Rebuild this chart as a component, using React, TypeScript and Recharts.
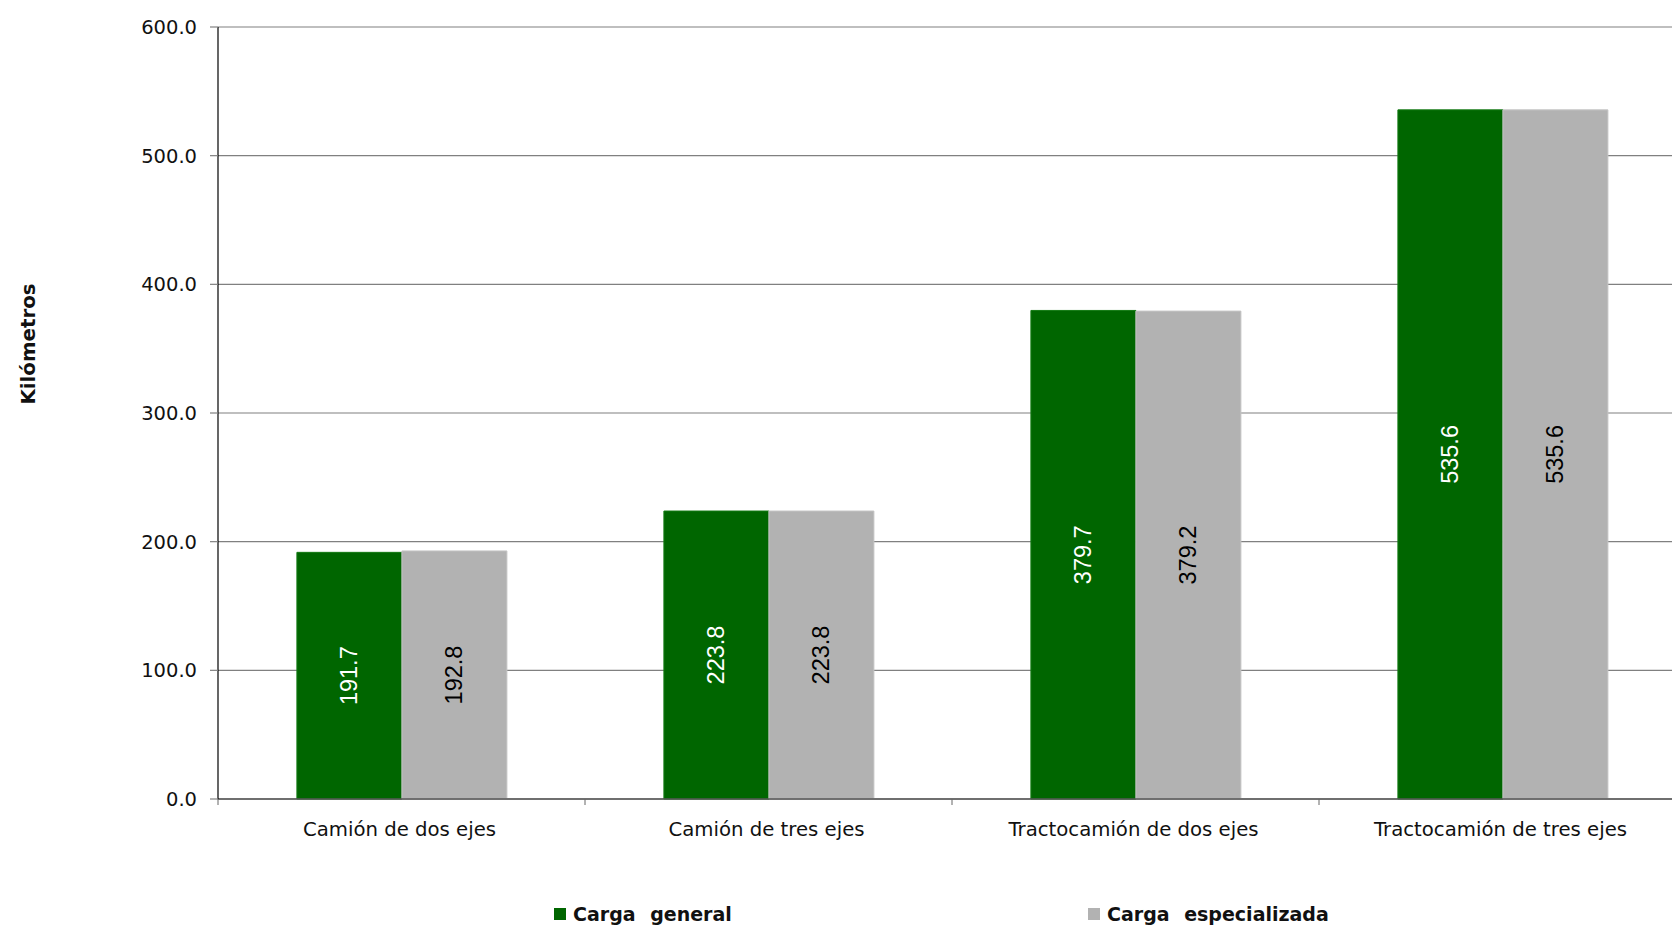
import React from 'react';
import { BarChart, Bar, XAxis, YAxis, CartesianGrid, LabelList, Legend, Label } from 'recharts';

const categories = ['Camión de dos ejes', 'Camión de tres ejes', 'Tractocamión de dos ejes', 'Tractocamión de tres ejes'];
const cargaGeneral = [191.7, 223.8, 379.7, 535.6];
const cargaEspecializada = [192.8, 223.8, 379.2, 535.6];
const yTicks = [0, 100, 200, 300, 400, 500, 600];
const seriesNames = ['Carga general', 'Carga especializada'];
const seriesColors = ['#006600', '#b2b2b2'];
const labelColors = ['#ffffff', '#000000'];

const data = categories.map((c, i) => ({ cat: c, g: cargaGeneral[i], e: cargaEspecializada[i] }));

const X_TICK_SIZE = 6;
const X_TICK_MARGIN = 17;

const CatTick = (props: any) => {
  const { x, y, payload } = props;
  const off = payload && payload.offset ? payload.offset : 0;
  const axisY = y - X_TICK_SIZE - X_TICK_MARGIN;
  const bx = x - off;
  return (
    <g>
      <line x1={bx} x2={bx} y1={axisY} y2={axisY + X_TICK_SIZE} stroke="#666" strokeWidth={1} />
      <text x={x - 2} y={y} dy="0.71em" textAnchor="middle" fontFamily="DejaVu Sans" fontSize={19.7} fill="#111">
        {payload.value}
      </text>
    </g>
  );
};

const makeBarLabel = (color: string) => (props: any) => {
  const { x, y, width, height, value } = props;
  const cx = x + width / 2;
  const cy = y + height / 2;
  return (
    <text
      x={cx}
      y={cy}
      transform={`rotate(-90, ${cx}, ${cy})`}
      textAnchor="middle"
      dominantBaseline="central"
      fontFamily="Liberation Sans"
      fontSize={23.5}
      fill={color}
    >
      {Number(value).toFixed(1)}
    </text>
  );
};

const legendLefts = [554, 1088];

const LegendContent = () => (
  <div style={{ position: 'relative', width: 1700, height: 32 }}>
    {seriesNames.map((n, i) => (
      <div
        key={n}
        style={{
          position: 'absolute',
          left: legendLefts[i],
          top: 0,
          height: 32,
          display: 'flex',
          alignItems: 'center',
          fontFamily: 'DejaVu Sans',
          fontWeight: 'bold',
          fontSize: 19,
          wordSpacing: 8,
          color: '#111',
          whiteSpace: 'nowrap',
        }}
      >
        <span style={{ display: 'inline-block', width: 12, height: 12, background: seriesColors[i], marginRight: 7 }} />
        <span>{n}</span>
      </div>
    ))}
  </div>
);

const YTitle = (props: any) => {
  const { viewBox } = props;
  const x = viewBox.x + 28;
  const y = viewBox.y + 317;
  return (
    <text
      x={x}
      y={y}
      transform={`rotate(-90, ${x}, ${y})`}
      textAnchor="middle"
      dominantBaseline="central"
      fontFamily="DejaVu Sans"
      fontWeight="bold"
      fontSize={19.8}
      fill="#111"
    >
      Kilómetros
    </text>
  );
};

export default function App() {
  return (
    <div style={{ position: 'fixed', left: 0, top: 0, width: 1672, height: 930, overflow: 'hidden', background: '#fff' }}>
      <BarChart
        width={1700}
        height={930}
        data={data}
        margin={{ top: 27, right: 14, bottom: 0, left: 0 }}
        barCategoryGap="21.5%"
        barGap={0}
      >
        <CartesianGrid vertical={false} stroke="#808080" strokeWidth={1.2} />
        <XAxis
          dataKey="cat"
          height={99}
          tickSize={X_TICK_SIZE}
          tickMargin={X_TICK_MARGIN}
          tickLine={false}
          axisLine={{ stroke: '#555', strokeWidth: 1.5 }}
          tick={<CatTick />}
          interval={0}
        />
        <YAxis
          width={218}
          domain={[0, 600]}
          ticks={yTicks}
          tickFormatter={(v: number) => v.toFixed(1)}
          tickSize={8}
          tickMargin={13}
          axisLine={{ stroke: '#000', strokeWidth: 1.2 }}
          tickLine={{ stroke: '#808080', strokeWidth: 1.2 }}
          tick={{ fontFamily: 'DejaVu Sans', fontSize: 19.5, fill: '#111' }}
        >
          <Label content={<YTitle />} />
        </YAxis>
        <Legend
          verticalAlign="bottom"
          content={<LegendContent />}
          wrapperStyle={{ left: 0, top: 898, width: 1700, height: 32 }}
        />
        <Bar dataKey="g" name={seriesNames[0]} fill={seriesColors[0]} stroke="#137a13" strokeWidth={1} isAnimationActive={false}>
          <LabelList dataKey="g" content={makeBarLabel(labelColors[0])} />
        </Bar>
        <Bar dataKey="e" name={seriesNames[1]} fill={seriesColors[1]} stroke="#c4c4c4" strokeWidth={1} isAnimationActive={false}>
          <LabelList dataKey="e" content={makeBarLabel(labelColors[1])} />
        </Bar>
      </BarChart>
    </div>
  );
}
